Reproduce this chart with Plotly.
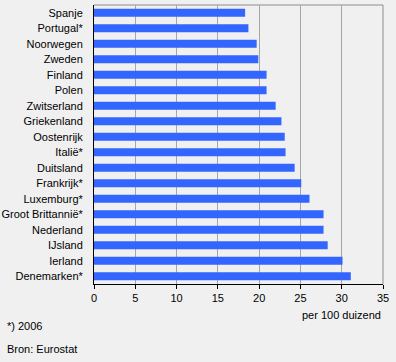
import plotly.graph_objects as go

countries = ["Spanje", "Portugal*", "Noorwegen", "Zweden", "Finland", "Polen",
             "Zwitserland", "Griekenland", "Oostenrijk", "Italië*", "Duitsland",
             "Frankrijk*", "Luxemburg*", "Groot Brittannië*", "Nederland",
             "IJsland", "Ierland", "Denemarken*"]
values = [18.3, 18.7, 19.7, 19.9, 20.9, 20.9, 22.0, 22.7, 23.1, 23.2, 24.3,
          25.1, 26.1, 27.8, 27.8, 28.3, 30.1, 31.1]
xticks = [0, 5, 10, 15, 20, 25, 30, 35]

font = dict(family="Liberation Sans, Arial, sans-serif", size=11, color="#000000")

fig = go.Figure(go.Bar(
    x=values, y=countries, orientation="h",
    marker=dict(color="#3366ff", line=dict(width=0)),
    hoverinfo="x+y",
))

fig.update_layout(
    width=396, height=362,
    margin=dict(l=94, r=13, t=5, b=78),
    paper_bgcolor="#f0f0f0", plot_bgcolor="#f0f0f0",
    font=font,
    bargap=0.48,
    showlegend=False,
    xaxis=dict(range=[0, 35], tickvals=xticks, showgrid=True, gridcolor="#a6a6a6",
               gridwidth=1, zeroline=False, showline=True, linecolor="#000000",
               linewidth=1, ticks="outside", ticklen=4, tickcolor="#000000",
               tickfont=font, fixedrange=True, automargin=False),
    yaxis=dict(autorange="reversed", showgrid=False, zeroline=False, showline=True,
               linecolor="#000000", linewidth=1, ticks="", ticklabelstandoff=8,
               tickfont=font, fixedrange=True, automargin=False),
    shapes=[
        dict(type="line", xref="paper", yref="paper", x0=0, x1=1, y0=1, y1=1,
             line=dict(color="#8c8c8c", width=1), layer="below"),
        dict(type="line", xref="paper", yref="paper", x0=1, x1=1, y0=0, y1=1,
             line=dict(color="#8c8c8c", width=1), layer="below"),
    ],
    annotations=[
        dict(text="per 100 duizend", xref="paper", yref="paper", x=1, y=0,
             xanchor="right", yanchor="middle", yshift=-31, showarrow=False, font=font),
        dict(text="*) 2006", xref="paper", yref="paper", x=-94/289, y=0,
             xanchor="left", yanchor="middle", yshift=-42, xshift=5, showarrow=False, font=font),
        dict(text="Bron: Eurostat", xref="paper", yref="paper", x=-94/289, y=0,
             xanchor="left", yanchor="middle", yshift=-65, xshift=5, showarrow=False, font=font),
    ],
)

fig.write_html("out.html", config={"displayModeBar": False},
               post_script="document.body.style.margin='0';document.body.style.background='#f0f0f0';")
